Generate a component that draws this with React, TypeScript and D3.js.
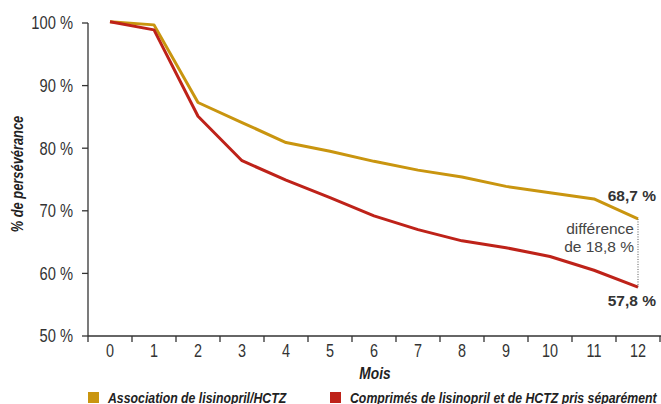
import React from "react";
import * as d3 from "d3";

const months = [0, 1, 2, 3, 4, 5, 6, 7, 8, 9, 10, 11, 12];
const combo = [100.2, 99.7, 87.3, 84.1, 80.9, 79.5, 77.9, 76.5, 75.4, 73.9, 72.9, 71.9, 68.7];
const separate = [100.2, 98.9, 85.1, 78.0, 74.9, 72.1, 69.2, 67.0, 65.2, 64.1, 62.7, 60.5, 57.8];
const yTicks = [50, 60, 70, 80, 90, 100];
const seriesNames = ["Association de lisinopril/HCTZ", "Comprimés de lisinopril et de HCTZ pris séparément"];
const diffLabel = ["différence", "de 18,8 %"];
const colors = ["#C9950F", "#BE2219"];

const W = 661;
const H = 404;
const font = "'Liberation Sans', Arial, sans-serif";

// Text squeezed horizontally to imitate a condensed typeface
function NarrowText({
  x,
  y,
  scale = 0.84,
  anchor = "start",
  rotate = 0,
  children,
  ...rest
}: any) {
  return (
    <g transform={`translate(${x},${y}) rotate(${rotate}) scale(${scale},1)`}>
      <text textAnchor={anchor} {...rest}>
        {children}
      </text>
    </g>
  );
}

export default function App() {
  const left = 88;
  const right = 660;
  const top = 23;
  const bottom = 336;

  const x = d3.scaleBand<number>().domain(months).range([left, right]).paddingInner(0).paddingOuter(0);
  const y = d3.scaleLinear().domain([50, 100]).range([bottom, top]);
  const cx = (m: number) => (x(m) ?? 0) + x.bandwidth() / 2;

  const line = d3
    .line<number>()
    .x((_, i) => cx(months[i]))
    .y((v) => y(v));

  const last = months.length - 1;
  const lx = cx(months[last]);
  const fmt = (v: number) => v.toFixed(1).replace(".", ",") + " %";

  return (
    <svg
      width={W}
      height={H}
      style={{ position: "absolute", left: 0, top: 0, background: "#fff" }}
      fontFamily={font}
    >
      {/* y axis */}
      <line x1={left} x2={left} y1={top} y2={bottom} stroke="#333" strokeWidth={1.3} />
      {yTicks.map((t) => (
        <g key={t}>
          <line x1={left - 6} x2={left} y1={y(t)} y2={y(t)} stroke="#333" strokeWidth={1.3} />
          <NarrowText x={left - 15} y={y(t)} anchor="end" scale={0.84} dy="0.36em" fontSize={17.5} fill="#333">
            {t} %
          </NarrowText>
        </g>
      ))}
      {/* x axis */}
      <line x1={left} x2={W} y1={bottom} y2={bottom} stroke="#333" strokeWidth={1.3} />
      {months.map((m) => (
        <g key={m}>
          <line x1={x(m)} x2={x(m)} y1={bottom} y2={bottom + 6} stroke="#333" strokeWidth={1.3} />
          <NarrowText x={cx(m)} y={bottom + 15} anchor="middle" scale={0.8} dy="0.36em" fontSize={18} fill="#333">
            {m}
          </NarrowText>
        </g>
      ))}
      <line x1={right} x2={right} y1={bottom} y2={bottom + 6} stroke="#333" strokeWidth={1.3} />

      <NarrowText x={375} y={373} anchor="middle" scale={0.86} dy="0.35em" fontSize={16} fontWeight="bold" fontStyle="italic" fill="#222">
        Mois
      </NarrowText>
      <NarrowText
        x={17}
        y={174}
        rotate={-90}
        anchor="middle"
        scale={0.78}
        dy="0.35em"
        fontSize={16.5}
        fontWeight="bold"
        fontStyle="italic"
        fill="#222"
      >
        % de persévérance
      </NarrowText>

      {/* series */}
      <path d={line(combo) ?? ""} fill="none" stroke={colors[0]} strokeWidth={3} strokeLinejoin="round" />
      <path d={line(separate) ?? ""} fill="none" stroke={colors[1]} strokeWidth={3} strokeLinejoin="round" />

      {/* gap between the two curves at month 12 */}
      <line
        x1={lx}
        x2={lx}
        y1={y(combo[last])}
        y2={y(separate[last])}
        stroke="#555"
        strokeWidth={1}
        strokeDasharray="1,1.5"
      />
      <text x={W - 5} y={y(combo[last]) - 24} dy="0.36em" textAnchor="end" fontSize={15.5} fontWeight="bold" fill="#333">
        {fmt(combo[last])}
      </text>
      <text x={W - 5} y={y(separate[last]) + 13} dy="0.36em" textAnchor="end" fontSize={15.5} fontWeight="bold" fill="#333">
        {fmt(separate[last])}
      </text>
      {diffLabel.map((s, i) => (
        <text key={s} x={lx - 4} y={229 + i * 18} dy="0.35em" textAnchor="end" fontSize={15.5} fill="#444">
          {s}
        </text>
      ))}

      {/* legend */}
      {seriesNames.map((n, i) => {
        const lxp = i === 0 ? 88 : 330;
        return (
          <g key={n}>
            <rect x={lxp} y={392} width={11} height={11} fill={colors[i]} />
            <NarrowText x={lxp + 20} y={403} scale={0.82} fontSize={15} fontWeight="bold" fontStyle="italic" fill="#222">
              {n}
            </NarrowText>
          </g>
        );
      })}
    </svg>
  );
}
